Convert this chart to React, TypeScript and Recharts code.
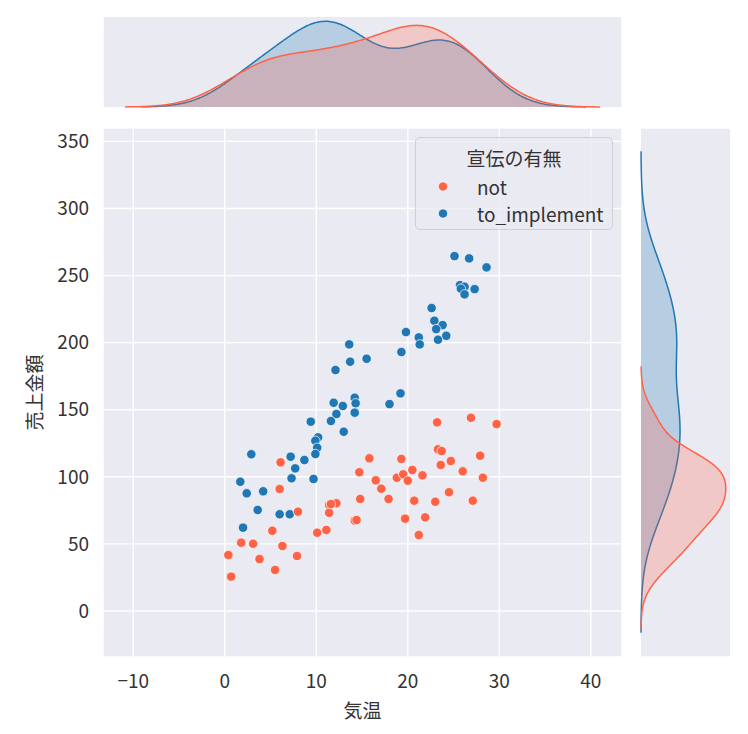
import React from 'react';
import { ScatterChart, Scatter, XAxis, YAxis, CartesianGrid, Legend, ComposedChart, Area, Label } from 'recharts';

const FONT = '"Noto Sans CJK JP", "Noto Sans", sans-serif';
const seriesNames = ['not', 'to_implement'];
const seriesColors = ['#ff6347', '#1f77b4'];
const legendTitle = '宣伝の有無';
const xLabel = '気温';
const yLabel = '売上金額';
const xTicks = [-10, 0, 10, 20, 30, 40];
const yTicks = [0, 50, 100, 150, 200, 250, 300, 350];
const xDomain = [-13.3, 43.4];
const yDomain = [-34.3, 360];

const notTemp = [6.1, 6.0, 8.0, 5.2, 1.8, 3.1, 6.3, 0.4, 3.8, 7.9, 5.5, 0.7, 10.1, 11.1, 11.4, 12.2, 11.4, 15.8, 14.7, 16.5, 17.1, 14.8, 17.9, 14.2, 19.3, 18.8, 19.5, 20.0, 20.5, 20.7, 19.7, 21.2, 23.2, 26.9, 29.7, 23.3, 23.7, 27.9, 24.7, 23.6, 21.6, 26.0, 28.2, 24.5, 23.0, 27.1, 21.9, 14.4, 11.6];
const notSales = [110.8, 90.9, 74.0, 59.8, 50.9, 50.1, 48.4, 41.7, 38.7, 41.0, 30.6, 25.6, 58.3, 60.4, 79.0, 80.3, 73.2, 113.8, 103.4, 97.4, 91.1, 83.5, 83.5, 67.3, 113.3, 99.3, 101.9, 97.1, 105.1, 82.2, 68.8, 56.6, 140.6, 144.0, 139.3, 120.5, 119.2, 115.7, 111.8, 108.8, 101.1, 104.1, 99.3, 88.5, 81.4, 82.2, 69.8, 67.8, 79.7];
const implTemp = [25.1, 26.7, 28.6, 25.7, 26.2, 25.8, 27.3, 26.2, 22.6, 22.9, 23.8, 23.1, 24.2, 23.3, 19.8, 21.2, 21.3, 19.3, 19.2, 18.0, 13.6, 13.7, 15.5, 12.1, 11.9, 12.9, 14.2, 14.3, 12.2, 14.2, 9.4, 11.6, 13.0, 10.2, 9.9, 10.1, 9.9, 2.9, 7.2, 8.7, 7.7, 7.3, 9.7, 1.7, 2.4, 4.2, 3.6, 6.0, 7.1, 2.0];
const implSales = [264.5, 262.8, 256.1, 242.9, 241.7, 240.2, 239.9, 236.0, 225.8, 216.3, 213.1, 210.1, 205.1, 202.2, 207.9, 203.9, 198.7, 193.0, 162.2, 154.2, 198.7, 185.8, 188.0, 179.6, 155.2, 152.8, 158.9, 154.8, 146.8, 147.8, 141.1, 141.6, 133.6, 129.4, 126.9, 121.7, 117.0, 116.8, 115.0, 112.5, 106.3, 98.9, 98.4, 96.3, 87.7, 89.2, 75.3, 72.1, 72.1, 62.1];

const notPoints = notTemp.map((x, i) => ({ x, y: notSales[i] }));
const implPoints = implTemp.map((x, i) => ({ x, y: implSales[i] }));
const TOTAL = notTemp.length + implTemp.length;

// Gaussian KDE (Scott's rule, cut=3, common normalisation), as seaborn's kdeplot does
function kdeModel(values: number[]) {
  const n = values.length;
  const mean = values.reduce((a, b) => a + b, 0) / n;
  const sd = Math.sqrt(values.reduce((a, b) => a + (b - mean) * (b - mean), 0) / (n - 1));
  const bw = sd * Math.pow(n, -0.2);
  const lo = Math.min(...values) - 3 * bw;
  const hi = Math.max(...values) + 3 * bw;
  const w = n / TOTAL;
  const f = (g: number) => {
    let s = 0;
    for (const v of values) {
      const z = (g - v) / bw;
      s += Math.exp(-0.5 * z * z);
    }
    return (w * s) / (n * bw * Math.sqrt(2 * Math.PI));
  };
  return { lo, hi, f };
}

function buildKde(a: number[], b: number[], key: string) {
  const ma = kdeModel(a);
  const mb = kdeModel(b);
  const lo = Math.min(ma.lo, mb.lo);
  const hi = Math.max(ma.hi, mb.hi);
  const N = 300;
  const rows: any[] = [];
  for (let i = 0; i <= N; i++) {
    const g = lo + ((hi - lo) * i) / N;
    rows.push({
      [key]: g,
      not: g >= ma.lo && g <= ma.hi ? ma.f(g) : null,
      impl: g >= mb.lo && g <= mb.hi ? mb.f(g) : null,
    });
  }
  const max = Math.max(...rows.map((r) => Math.max(r.not ?? 0, r.impl ?? 0)));
  return { rows, max };
}

const topKde = buildKde(notTemp, implTemp, 'x');
const rightKde = buildKde(notSales, implSales, 'y');

const fmt = (v: number) => (v < 0 ? '\u2212' + Math.abs(v) : String(v));
const tickStyle = { fill: '#333', fontSize: 19, fontFamily: FONT };

const renderLegend = () => (
  <div
    style={{
      width: 198,
      height: 93,
      boxSizing: 'border-box',
      border: '1px solid #cfcfd6',
      borderRadius: 5,
      background: 'rgba(234,234,242,0.8)',
      fontFamily: FONT,
      color: '#333',
      fontSize: 19,
    }}
  >
    <div style={{ textAlign: 'center', lineHeight: '22px', marginTop: 9 }}>{legendTitle}</div>
    <div style={{ marginTop: 3.5 }}>
      {seriesNames.map((n, i) => (
        <div key={n} style={{ display: 'flex', alignItems: 'center', height: 27 }}>
          <svg width={61} height={27} style={{ display: 'block' }}>
            <circle cx={27} cy={13.5} r={4.6} fill={seriesColors[i]} stroke="#fff" strokeWidth={0.7} />
          </svg>
          <span style={{ lineHeight: '27px' }}>{n}</span>
        </div>
      ))}
    </div>
  </div>
);

const dot = (color: string) => (p: any) => (
  <circle cx={p.cx} cy={p.cy} r={4.7} fill={color} stroke="#fff" strokeWidth={0.7} />
);

export default function App() {
  return (
    <div style={{ position: 'absolute', left: 0, top: 0, width: 748, height: 734, background: '#fff' }}>
      {/* top marginal */}
      <div style={{ position: 'absolute', left: 0, top: 0 }}>
        <ComposedChart width={640} height={120} data={topKde.rows} margin={{ top: 17, right: 18, bottom: 13, left: 103 }}>
          <CartesianGrid fill="#eaeaf2" stroke="#ffffff" strokeWidth={1.4} horizontal={false} />
          <XAxis type="number" dataKey="x" domain={xDomain} ticks={xTicks} allowDataOverflow height={0} tick={false} axisLine={false} tickLine={false} />
          <YAxis type="number" domain={[0, topKde.max * 1.05]} hide />
          <Area type="monotone" dataKey="impl" stroke={seriesColors[1]} strokeWidth={1.5} fill={seriesColors[1]} fillOpacity={0.25} dot={false} activeDot={false} isAnimationActive={false} />
          <Area type="monotone" dataKey="not" stroke={seriesColors[0]} strokeWidth={1.5} fill={seriesColors[0]} fillOpacity={0.25} dot={false} activeDot={false} isAnimationActive={false} />
        </ComposedChart>
      </div>
      {/* right marginal */}
      <div style={{ position: 'absolute', left: 630, top: 0 }}>
        <ComposedChart layout="vertical" width={118} height={734} data={rightKde.rows} margin={{ top: 128, right: 18, bottom: 77, left: 11 }}>
          <CartesianGrid fill="#eaeaf2" stroke="#ffffff" strokeWidth={1.4} vertical={false} />
          <XAxis type="number" domain={[0, rightKde.max * 1.05]} height={0} tick={false} axisLine={false} tickLine={false} />
          <YAxis type="number" dataKey="y" domain={yDomain} ticks={yTicks} reversed allowDataOverflow width={0} tick={false} axisLine={false} tickLine={false} />
          <Area type="linear" dataKey="impl" stroke={seriesColors[1]} strokeWidth={1.5} fill={seriesColors[1]} fillOpacity={0.25} dot={false} activeDot={false} isAnimationActive={false} />
          <Area type="linear" dataKey="not" stroke={seriesColors[0]} strokeWidth={1.5} fill={seriesColors[0]} fillOpacity={0.25} dot={false} activeDot={false} isAnimationActive={false} />
        </ComposedChart>
      </div>
      {/* main scatter */}
      <div style={{ position: 'absolute', left: 0, top: 0 }}>
        <ScatterChart width={640} height={734} margin={{ top: 128, right: 18, bottom: 0, left: 13 }}>
          <CartesianGrid fill="#eaeaf2" stroke="#ffffff" strokeWidth={1.4} />
          <XAxis type="number" dataKey="x" domain={xDomain} ticks={xTicks} allowDataOverflow height={77} axisLine={false} tickLine={false} tick={tickStyle} tickMargin={12} tickFormatter={fmt}>
            <Label
              content={(p: any) => {
                const vb = p.viewBox || {};
                return (
                  <text x={vb.x + vb.width / 2} y={vb.y + 52} textAnchor="middle" dominantBaseline="central" fill="#333" fontSize={19} fontFamily={FONT}>
                    {xLabel}
                  </text>
                );
              }}
            />
          </XAxis>
          <YAxis type="number" dataKey="y" domain={yDomain} ticks={yTicks} allowDataOverflow width={90} axisLine={false} tickLine={false} tick={tickStyle} tickMargin={8}>
            <Label
              content={(p: any) => {
                const vb = p.viewBox || {};
                const cx = vb.x + 20;
                const cy = vb.y + vb.height / 2;
                return (
                  <text x={cx} y={cy} transform={`rotate(-90, ${cx}, ${cy})`} textAnchor="middle" dominantBaseline="central" fill="#333" fontSize={19} fontFamily={FONT}>
                    {yLabel}
                  </text>
                );
              }}
            />
          </YAxis>
          <Scatter name={seriesNames[1]} data={implPoints} fill={seriesColors[1]} shape={dot(seriesColors[1])} isAnimationActive={false} />
          <Scatter name={seriesNames[0]} data={notPoints} fill={seriesColors[0]} shape={dot(seriesColors[0])} isAnimationActive={false} />
          <Legend
            layout="horizontal"
            verticalAlign="middle"
            align="center"
            content={renderLegend}
            wrapperStyle={{ position: 'absolute', left: 415, top: 137, width: 198, height: 93 }}
          />
        </ScatterChart>
      </div>
    </div>
  );
}
